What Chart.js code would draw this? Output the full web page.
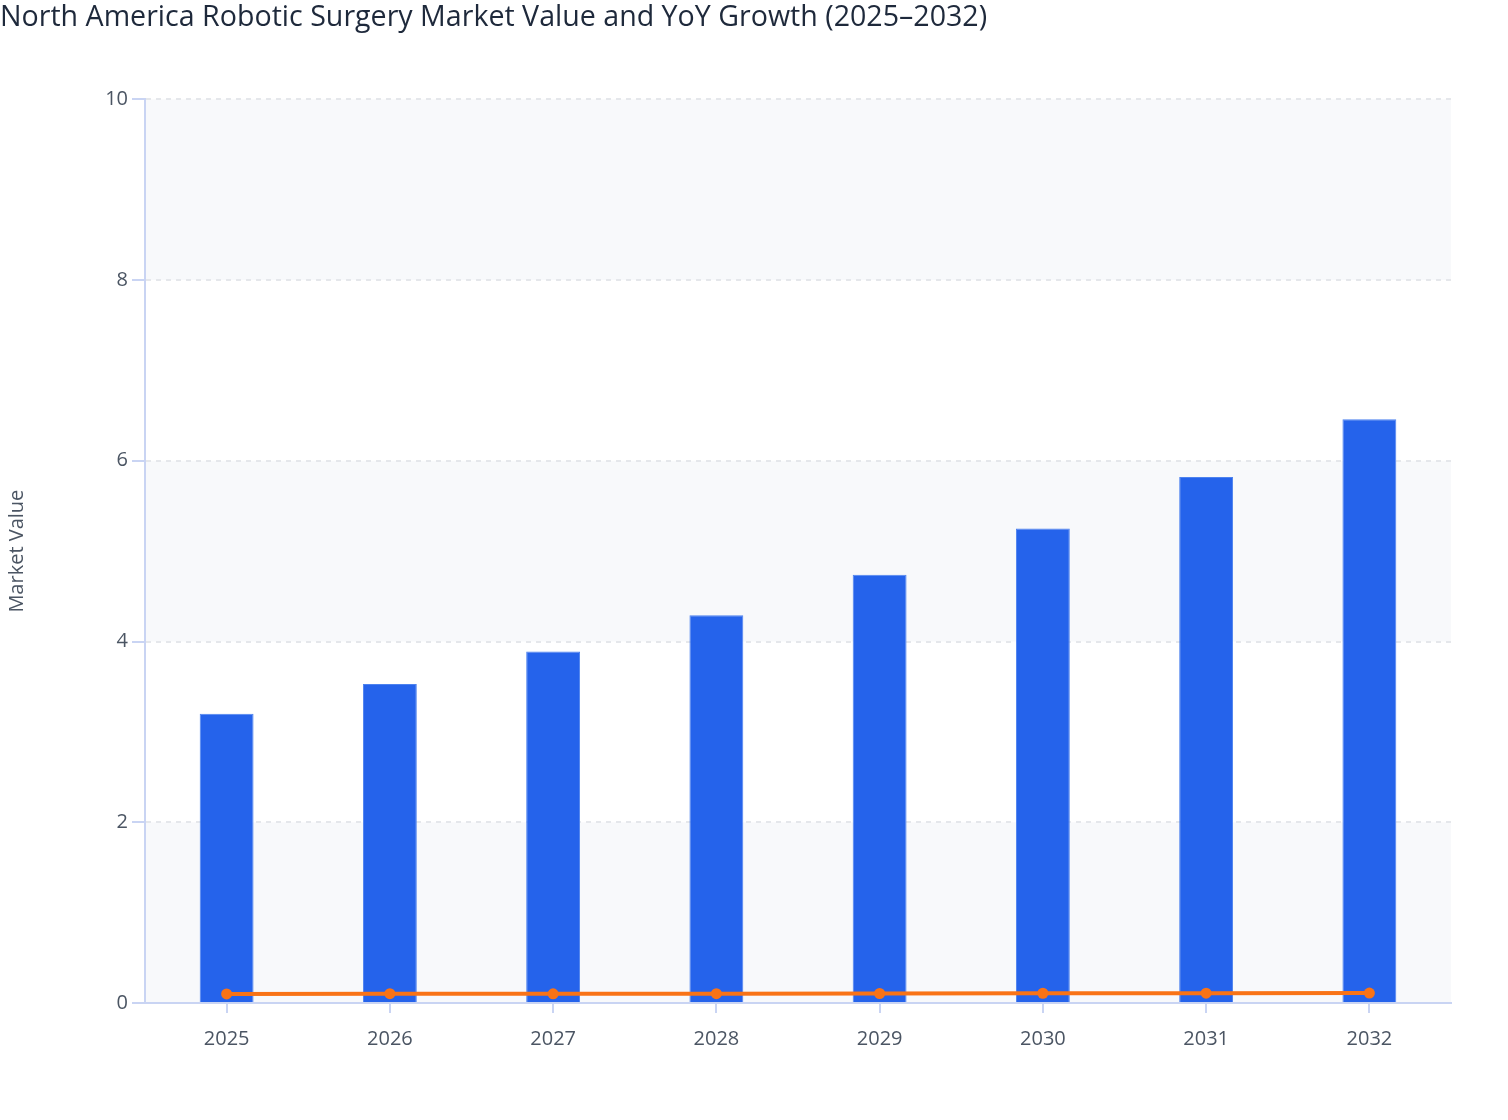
<!DOCTYPE html>
<html>
<head>
<meta charset="utf-8">
<title>North America Robotic Surgery Market</title>
<script src="https://cdn.jsdelivr.net/npm/chart.js@4.4.1/dist/chart.umd.min.js"></script>
<style>
  html, body { margin: 0; padding: 0; background: #ffffff; }
  #wrap { width: 1508px; height: 1120px; position: relative; }
</style>
</head>
<body>
<div id="wrap"><canvas id="chart"></canvas></div>
<script>
// ── DATA ──────────────────────────────────────────────────────────────────
const years       = ['2025', '2026', '2027', '2028', '2029', '2030', '2031', '2032'];
const marketValue = [3.20, 3.53, 3.89, 4.29, 4.74, 5.25, 5.82, 6.46];
const yoyGrowth   = [0.100, 0.103, 0.102, 0.103, 0.105, 0.108, 0.109, 0.110];
const yTicks      = [0, 2, 4, 6, 8, 10];

// ── STYLE ─────────────────────────────────────────────────────────────────
const FONT      = "'Open Sans', 'Noto Sans', sans-serif";
const axisColor = '#c9d4f3';
const gridColor = '#e5e7eb';
const tickText  = '#4b5563';
const bandColor = '#f8f9fb';

// alternating background bands between y ticks
const bandPlugin = {
  id: 'bands',
  beforeDraw(chart) {
    const { ctx, chartArea, scales } = chart;
    const y = scales.y;
    ctx.save();
    ctx.fillStyle = bandColor;
    for (let i = 0; i < yTicks.length - 1; i += 2) {
      const top = y.getPixelForValue(yTicks[i + 1]);
      const bot = y.getPixelForValue(yTicks[i]);
      ctx.fillRect(chartArea.left, top, chartArea.right - chartArea.left, bot - top);
    }
    ctx.restore();
  }
};

new Chart(document.getElementById('chart'), {
  data: {
    labels: years,
    datasets: [
      {
        type: 'line',
        label: 'YoY Growth',
        data: yoyGrowth,
        borderColor: '#f97316',
        backgroundColor: '#f97316',
        borderWidth: 4,
        pointRadius: 5.5,
        pointBackgroundColor: '#f97316',
        pointBorderWidth: 0,
        tension: 0,
        order: 0
      },
      {
        type: 'bar',
        label: 'Market Value',
        data: marketValue,
        backgroundColor: '#2563eb',
        borderColor: '#4d82ef',
        borderWidth: 1,
        barPercentage: 0.33,
        categoryPercentage: 1.0,
        order: 1
      }
    ]
  },
  options: {
    responsive: true,
    maintainAspectRatio: false,
    animation: false,
    layout: { padding: { left: 0, right: 57, top: 0, bottom: 0 } },
    plugins: {
      legend: { display: false },
      tooltip: { enabled: false },
      title: {
        display: true,
        text: 'North America Robotic Surgery Market Value and YoY Growth (2025–2032)',
        align: 'start',
        color: '#1e293b',
        font: { family: FONT, size: 28.6, weight: '500' },
        padding: { top: 1, bottom: 64 }
      }
    },
    scales: {
      x: {
        offset: true,
        afterFit: s => { s.height = 117; },
        grid: {
          offset: false,
          drawOnChartArea: false,
          color: axisColor,
          tickColor: axisColor,
          tickLength: 10,
          lineWidth: 2
        },
        border: { color: axisColor, width: 2 },
        ticks: {
          color: tickText,
          font: { family: FONT, size: 20 },
          padding: 14
        }
      },
      y: {
        min: 0,
        max: 10,
        afterFit: s => { s.width = 145; },
        afterBuildTicks: s => { s.ticks = yTicks.map(v => ({ value: v })); },
        grid: {
          color: gridColor,
          lineWidth: 2,
          tickColor: axisColor,
          tickLength: 13,
          tickBorderDash: []
        },
        border: { color: axisColor, width: 2, dash: [5, 5] },
        ticks: {
          color: tickText,
          font: { family: FONT, size: 20 },
          padding: 4
        },
        title: {
          display: true,
          text: 'Market Value',
          color: tickText,
          font: { family: FONT, size: 20 },
          padding: { top: 5, bottom: 0 }
        }
      }
    }
  },
  plugins: [bandPlugin]
});
</script>
</body>
</html>
